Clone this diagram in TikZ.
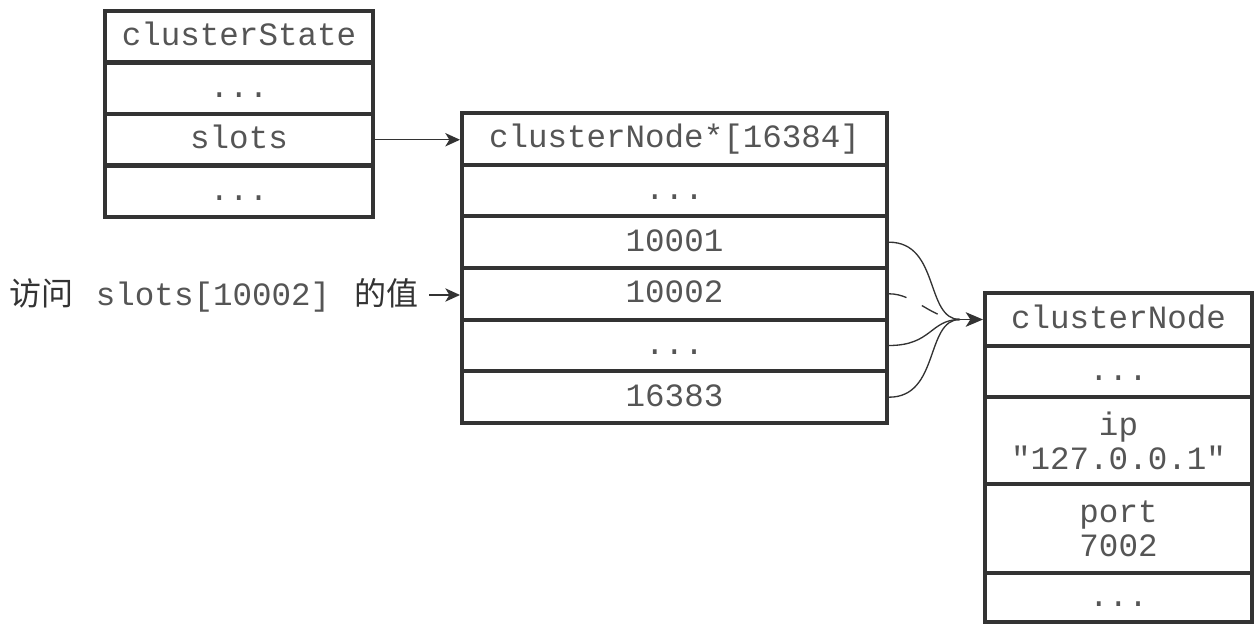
\documentclass[tikz,border=0pt]{standalone}
\usepackage{fontspec}
\newfontfamily\monof{Liberation Mono}[Ligatures=TeXOff]
\newfontfamily\cjk{Noto Sans CJK SC}
\usetikzlibrary{arrows.meta}
\definecolor{linec}{HTML}{333333}
\definecolor{textc}{HTML}{555555}
\begin{document}
\begin{tikzpicture}[x=0.75pt,y=-0.75pt,
  cellbase/.style={draw=linec, line width=3pt, inner sep=0pt, align=center, text=textc,
    font=\monof\fontsize{24.4}{25.5}\selectfont},
  cell/.style={cellbase, text height=13.5pt, text depth=0pt},
  boxA/.style={cell, minimum width=201pt, minimum height=38.6pt},
  boxB/.style={cell, minimum width=318.75pt, minimum height=38.75pt},
  boxC/.style={cell, minimum width=200.25pt},
  boxCm/.style={cellbase, minimum width=200.25pt},
  conn/.style={draw=linec, line width=1pt},
  tip/.style={-{Stealth[length=11pt,width=10pt,inset=3pt]}},
  bigtip/.style={-{Stealth[length=13pt,width=11pt,inset=3.5pt]}}]
\useasboundingbox (0,0) rectangle (1254,624);
% clusterState
\node[boxA] (a1) at (239,36.75) {clusterState};
\node[boxA] (a2) at (239,88.25) {...};
\node[boxA] (a3) at (239,139.75) {slots};
\node[boxA] (a4) at (239,191.25) {...};
% array
\node[boxB] (b1) at (674.5,138.8) {clusterNode*[16384]};
\node[boxB] (b2) at (674.5,190.5) {...};
\node[boxB] (b3) at (674.5,242.2) {10001};
\node[boxB] (b4) at (674.5,293.8) {10002};
\node[boxB] (b5) at (674.5,345.5) {...};
\node[boxB] (b6) at (674.5,397.2) {16383};
% clusterNode
\node[boxC, minimum height=39.75pt] (c1) at (1118.5,319.5) {clusterNode};
\node[boxC, minimum height=38.25pt] (c2) at (1118.5,371.5) {...};
\node[boxCm, minimum height=65.25pt] (c3) at (1118.5,440.5) {ip\\"127.0.0.1"};
\node[boxCm, minimum height=66.75pt] (c4) at (1118.5,528.5) {port\\7002};
\node[boxC, minimum height=36.75pt] (c5) at (1118.5,597.5) {...};
% label
\node[anchor=west, inner sep=0pt, text=linec] (lbl) at (9,295)
  {{\cjk\fontsize{24}{26}\selectfont 访问}\hspace{17pt}{\monof\fontsize{24.4}{25.5}\selectfont\color{textc}slots[10002]}\hspace{18pt}{\cjk\fontsize{24}{26}\selectfont 的值}};
% connectors
\draw[conn, tip] (a3.east) -- (a3.east -| b1.west);
\draw[conn, tip, shorten <=8pt] (lbl.east) -- (lbl.east -| b4.west);
\coordinate (m) at (960,319.5);
\draw[conn] (b3.east) .. controls (940,242.2) and (925,319.5) .. (m);
\draw[conn, dash pattern=on 13.5pt off 13pt] (b4.east) .. controls (915,293.8) and (932,319.5) .. (m);
\draw[conn] (b5.east) .. controls (932,345.5) and (930,319.5) .. (m);
\draw[conn] (b6.east) .. controls (940,397.2) and (925,319.5) .. (m);
\draw[conn, bigtip] (m) -- (c1.west);
\end{tikzpicture}
\end{document}
